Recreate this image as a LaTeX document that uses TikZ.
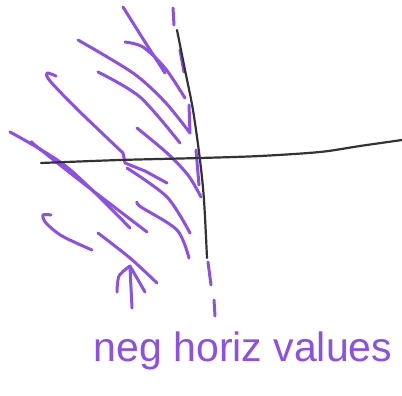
\documentclass[tikz,border=0pt]{standalone}
\usepackage{fontspec}
\setmainfont{Liberation Sans}
\definecolor{pen}{RGB}{140,80,228}
\begin{document}
\begin{tikzpicture}[x=1pt,y=-1pt,
  hatch/.style={draw=pen,line width=3pt,line cap=round,line join=round},
  axis/.style={draw=black!80,line width=2.2pt,line cap=round},
  lbl/.style={text=pen,font=\fontsize{41}{46}\selectfont,inner sep=0pt}]
\useasboundingbox (0,0) rectangle (402,396);
% hatching strokes
\draw[hatch] plot[smooth] coordinates {(123,7) (145,42) (165,73)};
\draw[hatch] plot[smooth] coordinates {(125,42) (143,47) (165,68) (185,98)};
\draw[hatch] plot[smooth] coordinates {(78,40) (133,73) (165,102) (190,133)} -- (189,105);
\draw[hatch] (180,50) -- (184,72);
\draw[hatch] plot[smooth] coordinates {(56,76) (47,73) (50,81) (78,110) (123,153)} -- (125,163) -- (145,171) -- (167,183);
\draw[hatch] plot[smooth] coordinates {(98,72) (140,97) (180,143)};
\draw[hatch] plot[smooth] coordinates {(137,128) (167,153) (188,175) (201,197)};
\draw[hatch] (196,150) -- (199,185);
\draw[hatch] plot[smooth] coordinates {(10,132) (67,167) (130,228)};
\draw[hatch] plot[smooth] coordinates {(32,142) (36,146) (83,183) (147,232)};
\draw[hatch] plot[smooth] coordinates {(127,168) (167,197) (190,233)};
\draw[hatch] plot[smooth] coordinates {(137,202) (141,207) (177,230) (189,258)};
\draw[hatch] plot[smooth] coordinates {(51,215) (43,215) (46,223) (62,236) (92,250)};
\draw[hatch] plot[smooth] coordinates {(98,233) (130,258) (157,283)};
% arrow
\draw[hatch] (132,308) -- (130,267);
\draw[hatch] plot[smooth] coordinates {(117,292) (119,276) (130,266)} -- (145,292);
% axes
\draw[axis] plot[smooth] coordinates {(177,30) (185,70) (193,110) (200,160) (204,200) (207,258)};
\draw[axis] plot[smooth] coordinates {(41,163) (120,160) (200,158) (260,156) (320,152) (360,146) (402,140)};
% dashed continuation
\draw[hatch] (173,8) -- (174,25);
\draw[hatch] (208,262) -- (211,285);
\draw[hatch] (214,300) -- (215,316);
% label
\node[lbl,anchor=base] (label) at (243,361) {neg horiz values};
\end{tikzpicture}
\end{document}
